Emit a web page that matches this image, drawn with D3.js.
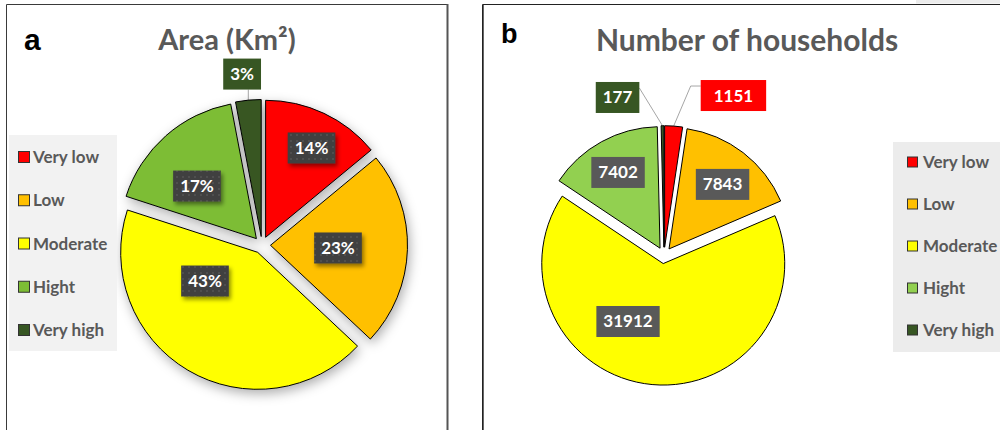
<!DOCTYPE html>
<html>
<head>
<meta charset="utf-8">
<script src="https://cdn.jsdelivr.net/npm/d3@7"></script>
<style>
  html, body { margin: 0; padding: 0; background: #ffffff; }
  svg { display: block; }
</style>
</head>
<body>
<svg id="chart" width="1000" height="430"></svg>
<script>
// ---- data ----
const categories = ["Very low", "Low", "Moderate", "Hight", "Very high"];
const areaShares = [14, 23, 43, 17, 3];            // % of area (Km²)
const households = [1151, 7843, 31912, 7402, 177]; // number of households
const areaColors = ["#ff0000", "#ffc000", "#ffff00", "#7dbd35", "#375623"];
const householdColors = ["#ff0000", "#ffc000", "#ffff00", "#92d050", "#375623"];

// ---- layout ----
const svg = d3.select("#chart");
const FONT = "Lato, 'Open Sans', sans-serif";
const GREY_TEXT = "#595959";

const defs = svg.append("defs");

// soft drop shadow behind the area pie
const pieShadow = defs.append("filter").attr("id", "pieShadow")
  .attr("x", "-30%").attr("y", "-30%").attr("width", "160%").attr("height", "160%");
pieShadow.append("feGaussianBlur").attr("in", "SourceAlpha").attr("stdDeviation", 6).attr("result", "b");
pieShadow.append("feOffset").attr("in", "b").attr("dx", 2).attr("dy", 4).attr("result", "o");
pieShadow.append("feFlood").attr("flood-color", "#000").attr("flood-opacity", 0.32).attr("result", "c");
pieShadow.append("feComposite").attr("in", "c").attr("in2", "o").attr("operator", "in").attr("result", "s");
const m1 = pieShadow.append("feMerge");
m1.append("feMergeNode").attr("in", "s");
m1.append("feMergeNode").attr("in", "SourceGraphic");

// small shadow for label boxes
const boxShadow = defs.append("filter").attr("id", "boxShadow")
  .attr("x", "-30%").attr("y", "-30%").attr("width", "160%").attr("height", "170%");
boxShadow.append("feGaussianBlur").attr("in", "SourceAlpha").attr("stdDeviation", 2).attr("result", "b");
boxShadow.append("feOffset").attr("in", "b").attr("dx", 2).attr("dy", 3).attr("result", "o");
boxShadow.append("feFlood").attr("flood-color", "#000").attr("flood-opacity", 0.45).attr("result", "c");
boxShadow.append("feComposite").attr("in", "c").attr("in2", "o").attr("operator", "in").attr("result", "s");
const m2 = boxShadow.append("feMerge");
m2.append("feMergeNode").attr("in", "s");
m2.append("feMergeNode").attr("in", "SourceGraphic");

// dotted dark texture for the area labels
const dots = defs.append("pattern").attr("id", "dotFill")
  .attr("width", 6).attr("height", 6).attr("patternUnits", "userSpaceOnUse");
dots.append("rect").attr("width", 6).attr("height", 6).attr("fill", "#3f3f3f");
dots.append("circle").attr("cx", 3).attr("cy", 3).attr("r", 1).attr("fill", "#565656");

// ---- panel frames ----
svg.append("rect").attr("x", 916).attr("y", 0).attr("width", 84).attr("height", 3.5).attr("fill", "#ececec");
svg.append("path").attr("d", "M6.5,440 V4.5 H447").attr("fill", "none").attr("stroke", "#3a3a3a").attr("stroke-width", 1);
svg.append("line").attr("x1", 447.5).attr("x2", 447.5).attr("y1", 4).attr("y2", 440)
  .attr("stroke", "#555").attr("stroke-width", 2);
svg.append("path").attr("d", "M482.5,440 V4.5 H1000").attr("fill", "none").attr("stroke", "#222").attr("stroke-width", 1);
svg.append("line").attr("x1", 483.5).attr("x2", 483.5).attr("y1", 5).attr("y2", 440)
  .attr("stroke", "#666").attr("stroke-width", 1);

// ---- helpers ----
const rad = deg => deg * Math.PI / 180;

function drawPanel(opt) {
  const g = svg.append("g");
  const pie = d3.pie().sort(null).value(d => d)(opt.values);
  const arc = d3.arc().innerRadius(0).outerRadius(opt.r);

  // each slice pulled out along its mid angle
  const apex = pie.map(p => {
    const mid = (p.startAngle + p.endAngle) / 2;
    return [opt.cx + opt.explode * Math.sin(mid), opt.cy - opt.explode * Math.cos(mid)];
  });

  const sliceG = g.append("g").attr("filter", opt.shadow ? "url(#pieShadow)" : null);
  sliceG.selectAll("path").data(pie).join("path")
    .attr("transform", (d, i) => `translate(${apex[i][0]},${apex[i][1]})`)
    .attr("d", arc)
    .attr("fill", (d, i) => opt.colors[i])
    .attr("stroke", "#000").attr("stroke-width", 1).attr("stroke-linejoin", "round");

  // labels
  opt.labels.forEach((txt, i) => {
    const [angDeg, frac] = opt.labelPos[i];
    const a = rad(angDeg);
    const lx = apex[i][0] + opt.r * frac * Math.sin(a);
    const ly = apex[i][1] - opt.r * frac * Math.cos(a);
    const lg = g.append("g");
    const t = lg.append("text")
      .attr("x", lx).attr("y", ly + 6)
      .attr("text-anchor", "middle")
      .attr("font-family", FONT).attr("font-weight", 700).attr("font-size", 17)
      .attr("fill", "#fff").text(txt);
    const w = t.node().getComputedTextLength() + 2 * (opt.padX[i]);
    const h = 31;
    const bx = lx - w / 2, by = ly - h / 2;
    lg.insert("rect", "text")
      .attr("x", bx).attr("y", by).attr("width", w).attr("height", h)
      .attr("fill", opt.boxFill[i])
      .attr("filter", opt.boxShadow[i] ? "url(#boxShadow)" : null);

    // leader lines for labels outside the pie
    const mid = (pie[i].startAngle + pie[i].endAngle) / 2;
    const ox = apex[i][0] + opt.r * Math.sin(mid);
    const oy = apex[i][1] - opt.r * Math.cos(mid);
    const kind = opt.leader[i];
    let pts = null;
    if (kind === "bottom") pts = [[ox, by + h], [ox, oy]];
    else if (kind === "right") pts = [[bx + w, by + 6], [ox, oy]];
    else if (kind === "left") pts = [[bx, by + 6], [bx - 10, by + 6], [ox, oy]];
    if (pts) {
      g.insert("path", ":first-child")
        .attr("d", d3.line()(pts))
        .attr("fill", "none").attr("stroke", "#a6a6a6").attr("stroke-width", 1);
    }
  });

  // title and panel letter
  g.append("text").attr("x", opt.titleX).attr("y", opt.titleY)
    .attr("text-anchor", "middle")
    .attr("font-family", FONT).attr("font-weight", 700).attr("font-size", opt.titleSize)
    .attr("fill", GREY_TEXT).text(opt.title);
  g.append("text").attr("x", opt.letterX).attr("y", opt.letterY)
    .attr("font-family", "'Liberation Sans', Arial, sans-serif").attr("font-weight", 700)
    .attr("font-size", opt.letterSize).attr("fill", "#000").text(opt.letter);

  // legend
  const L = opt.legend;
  g.append("rect").attr("x", L.x).attr("y", L.y).attr("width", L.w).attr("height", L.h).attr("fill", L.bg);
  const rowY = d3.scalePoint().domain(categories).range([L.first, L.last]);
  const items = g.selectAll(null).data(categories).join("g")
    .attr("transform", d => `translate(${L.markX},${rowY(d)})`);
  items.append("rect")
    .attr("x", 0.5).attr("y", -L.mark / 2).attr("width", L.mark).attr("height", L.mark)
    .attr("fill", (d, i) => opt.colors[i]).attr("stroke", "#333").attr("stroke-width", 1);
  items.append("text")
    .attr("x", L.textDx).attr("y", 6)
    .attr("font-family", FONT).attr("font-weight", 700).attr("font-size", 17)
    .attr("fill", GREY_TEXT).text(d => d);
}

drawPanel({
  values: areaShares,
  colors: areaColors,
  cx: 262, cy: 245, r: 137, explode: 8.5, shadow: true,
  labels: areaShares.map(v => v + "%"),
  labelPos: [[27.2, 0.733], [92.3, 0.493], [241.4, 0.438], [311.5, 0.579], [353.3, 1.194]],
  padX: [7, 7, 7, 7, 7],
  boxFill: ["url(#dotFill)", "url(#dotFill)", "url(#dotFill)", "url(#dotFill)", "#375623"],
  boxShadow: [true, true, true, true, false],
  leader: [null, null, null, null, "bottom"],
  title: "Area (Km²)", titleX: 227, titleY: 50, titleSize: 29,
  letter: "a", letterX: 24, letterY: 50, letterSize: 30,
  legend: { x: 9, y: 135, w: 108, h: 216, bg: "#f2f2f2", first: 157, last: 330, markX: 18, mark: 11, textDx: 15 }
});

drawPanel({
  values: households,
  colors: householdColors,
  cx: 664, cy: 255.4, r: 121.5, explode: 8.2, shadow: false,
  labels: households.map(v => String(v)),
  labelPos: [[24.4, 1.371], [39.7, 0.69], [211.3, 0.558], [331, 0.713], [342.8, 1.29]],
  padX: [13, 7, 7, 7, 7],
  boxFill: ["#ff0000", "#595959", "#595959", "#595959", "#375623"],
  boxShadow: [false, false, false, false, false],
  leader: ["left", null, null, null, "right"],
  title: "Number of households", titleX: 747, titleY: 51, titleSize: 30,
  letter: "b", letterX: 501, letterY: 43, letterSize: 27,
  legend: { x: 893, y: 142, w: 110, h: 210, bg: "#ececec", first: 162, last: 330, markX: 907, mark: 10, textDx: 16 }
});
</script>
</body>
</html>
